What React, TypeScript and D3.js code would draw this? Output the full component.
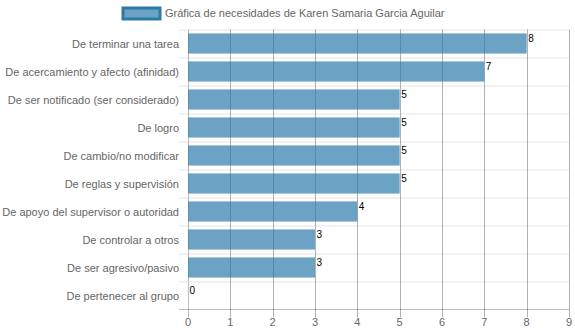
import React from "react";
import * as d3 from "d3";

const categories = [
  "De terminar una tarea",
  "De acercamiento y afecto (afinidad)",
  "De ser notificado (ser considerado)",
  "De logro",
  "De cambio/no modificar",
  "De reglas y supervisión",
  "De apoyo del supervisor o autoridad",
  "De controlar a otros",
  "De ser agresivo/pasivo",
  "De pertenecer al grupo",
];
const values = [8, 7, 5, 5, 5, 5, 4, 3, 3, 0];
const xTicks = [0, 1, 2, 3, 4, 5, 6, 7, 8, 9];
const legendLabel = "Gráfica de necesidades de Karen Samaria Garcia Aguilar";

export default function App() {
  const W = 575, H = 334;
  const left = 188, right = 569, top = 29.5, bottom = 309.5;
  const x = d3.scaleLinear().domain([0, 9]).range([left, right]);
  const y = d3.scaleBand().domain(categories).range([top, bottom]);
  const bw = y.bandwidth() * 0.72;
  const font = "'Liberation Sans', Arial, sans-serif";
  const fill = "rgba(38,118,166,0.68)";
  return (
    <svg width={W} height={H} style={{ position: "absolute", left: 0, top: 0, fontFamily: font }}>
      {/* legend */}
      <rect x={123} y={8} width={37} height={11} fill="rgba(38,118,166,0.68)" stroke="#2c7aa6" strokeWidth={3} />
      <text x={165} y={17} fontSize={11} fill="#666">{legendLabel}</text>
      {/* horizontal grid */}
      {categories.map((c, i) => (
        <line key={"h" + i} x1={left - 9} x2={right} y1={y(c)! + 0.5} y2={y(c)! + 0.5} stroke="rgba(0,0,0,0.1)" />
      ))}
      <line x1={left - 9} x2={right} y1={bottom} y2={bottom} stroke="rgba(0,0,0,0.25)" />
      {/* vertical grid */}
      {xTicks.map((t) => (
        <line key={"v" + t} x1={Math.round(x(t)) + 0.5} x2={Math.round(x(t)) + 0.5} y1={top} y2={bottom + 8}
          stroke={t === 0 ? "rgba(0,0,0,0.25)" : "rgba(0,0,0,0.3)"} />
      ))}
      {/* bars */}
      {categories.map((c, i) => (
        <rect key={"b" + i} x={x(0)} y={y(c)! + (y.bandwidth() - bw) / 2}
          width={x(values[i]) - x(0)} height={bw} fill={fill} />
      ))}
      {/* value labels */}
      {categories.map((c, i) => (
        <text key={"v" + i} x={x(values[i]) + 1.5} y={y(c)! + y.bandwidth() / 2 - 2} fontSize={10} fill="#000">{values[i]}</text>
      ))}
      {/* y labels */}
      {categories.map((c, i) => (
        <text key={"y" + i} x={179} y={y(c)! + y.bandwidth() / 2 + 4} fontSize={11} fill="#666" textAnchor="end">{c}</text>
      ))}
      {/* x labels */}
      {xTicks.map((t) => (
        <text key={"x" + t} x={x(t)} y={326} fontSize={11} fill="#666" textAnchor="middle">{t}</text>
      ))}
    </svg>
  );
}
